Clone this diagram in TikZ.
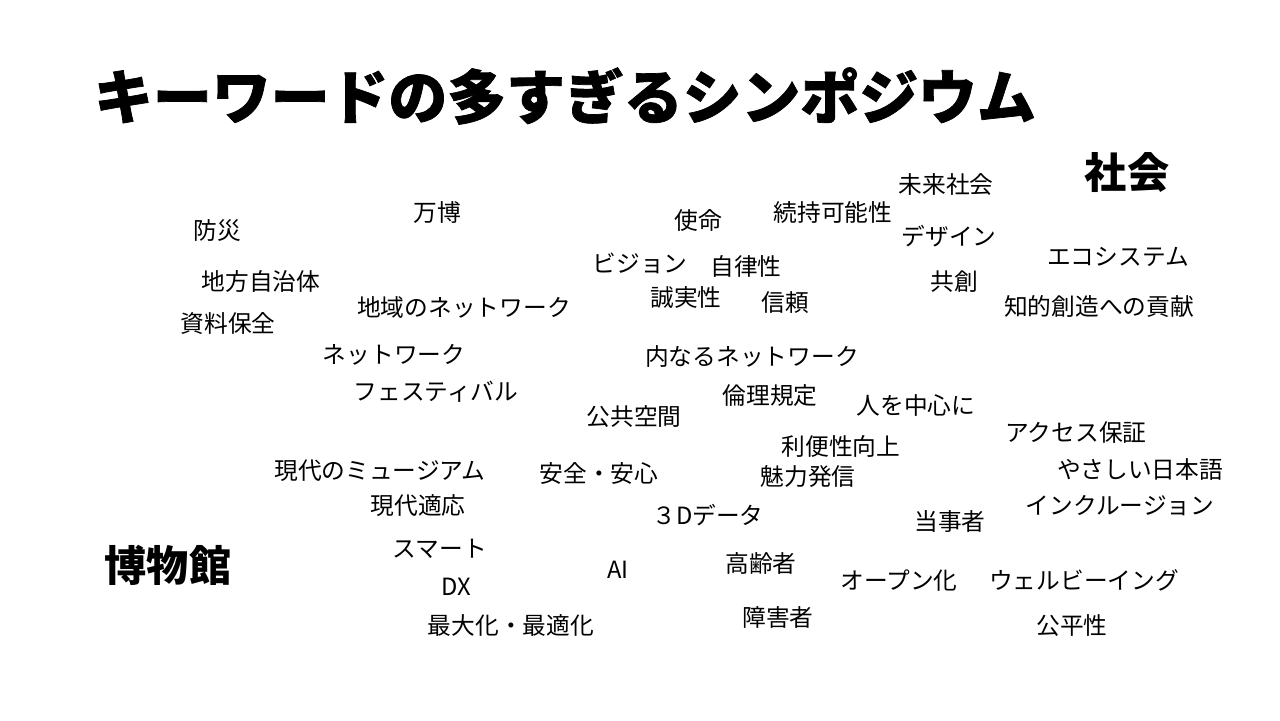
\documentclass[tikz,border=0pt]{standalone}
\usepackage{fontspec}
\newfontfamily\jp{Noto Sans CJK JP}
\newfontfamily\jpheavy[FakeBold=1.2]{Noto Sans CJK JP}
\begin{document}
\begin{tikzpicture}[x=0.02cm,y=-0.02cm,
  word/.style={inner sep=0pt,anchor=center,font=\jp\fontsize{13.5}{15}\selectfont,text=black},
  big/.style={inner sep=0pt,anchor=center,font=\jp\bfseries\fontsize{24}{28}\selectfont,text=black},
  titlestyle/.style={inner sep=0pt,anchor=center,font=\jpheavy\bfseries\fontsize{33.5}{38}\selectfont,text=black}]
\useasboundingbox[fill=white] (0,0) rectangle (1280,720);
\node[titlestyle] (title) at (565,96) {キーワードの多すぎるシンポジウム};
\node[big] (shakai) at (1127,173) {社会};
\node[big] (hakubutsukan) at (168,565) {博物館};
\node[word] (w1) at (217,231) {防災};
\node[word] (w2) at (437,212) {万博};
\node[word] (w3) at (261,281) {地方自治体};
\node[word] (w4) at (464,307) {地域のネットワーク};
\node[word] (w5) at (228,323) {資料保全};
\node[word] (w6) at (698,221) {使命};
\node[word] (w7) at (833,212) {続持可能性};
\node[word] (w8) at (946,185) {未来社会};
\node[word] (w9) at (949,236) {デザイン};
\node[word] (w10) at (640,263) {ビジョン};
\node[word] (w11) at (746,266) {自律性};
\node[word] (w12) at (686,298) {誠実性};
\node[word] (w13) at (785,303) {信頼};
\node[word] (w14) at (954,282) {共創};
\node[word] (w15) at (1118,257) {エコシステム};
\node[word] (w16) at (1099,306) {知的創造への貢献};
\node[word] (w17) at (394,355) {ネットワーク};
\node[word] (w18) at (436,392) {フェスティバル};
\node[word] (w19) at (752,357) {内なるネットワーク};
\node[word] (w20) at (770,396) {倫理規定};
\node[word] (w21) at (916,405) {人を中心に};
\node[word] (w22) at (634,417) {公共空間};
\node[word] (w23) at (1076,433) {アクセス保証};
\node[word] (w24) at (841,446) {利便性向上};
\node[word] (w25) at (1140,469) {やさしい日本語};
\node[word] (w26) at (380,471) {現代のミュージアム};
\node[word] (w27) at (599,473) {安全・安心};
\node[word] (w28) at (808,476) {魅力発信};
\node[word] (w29) at (418,506) {現代適応};
\node[word] (w30) at (1120,506) {インクルージョン};
\node[word] (w31) at (708,515) {３Dデータ};
\node[word] (w32) at (950,522) {当事者};
\node[word] (w33) at (440,549) {スマート};
\node[word] (w34) at (618,570) {AI};
\node[word] (w35) at (761,563) {高齢者};
\node[word] (w36) at (899,581) {オープン化};
\node[word] (w37) at (1084,580) {ウェルビーイング};
\node[word] (w38) at (456,587) {DX};
\node[word] (w39) at (511,625) {最大化・最適化};
\node[word] (w40) at (778,617) {障害者};
\node[word] (w41) at (1072,626) {公平性};
\end{tikzpicture}
\end{document}
